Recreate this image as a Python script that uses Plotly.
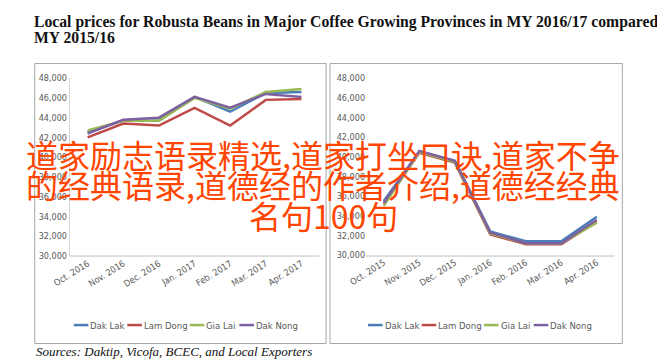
import plotly.graph_objects as go

W, H = 665, 359

series_names = ["Dak Lak", "Lam Dong", "Gia Lai", "Dak Nong"]
series_colors = ["#4a7ebb", "#be4b48", "#98b954", "#7d60a0"]

months_1617 = ["Oct. 2016", "Nov. 2016", "Dec. 2016", "Jan. 2017", "Feb. 2017", "Mar. 2017", "Apr. 2017"]
months_1516 = ["Oct. 2015", "Nov. 2015", "Dec. 2015", "Jan. 2016", "Feb. 2016", "Mar. 2016", "Apr. 2016"]

# MY 2016/17 (VND/kg)
dak_lak_1617 = [42500, 43700, 43700, 46100, 44600, 46500, 46600]
lam_dong_1617 = [42000, 43400, 43200, 45000, 43200, 45800, 45900]
gia_lai_1617 = [42700, 43700, 43700, 46000, 44900, 46600, 46900]
dak_nong_1617 = [42400, 43800, 44000, 46100, 45000, 46400, 46100]

# MY 2015/16 (VND/kg)
dak_lak_1516 = [35500, 40500, 39600, 32400, 31400, 31400, 33900]
lam_dong_1516 = [35200, 40400, 39400, 32100, 31100, 31100, 33400]
gia_lai_1516 = [35000, 40500, 39500, 32200, 31200, 31200, 33300]
dak_nong_1516 = [35300, 40600, 39600, 32300, 31200, 31200, 33600]

y_ticks = [30000, 32000, 34000, 36000, 38000, 40000, 42000, 44000, 46000, 48000]

title_line1 = "Local prices for Robusta Beans in Major Coffee Growing Provinces in MY 2016/17 compared to"
title_line2 = "MY 2015/16"
source_text = "Sources: Daktip, Vicofa, BCEC, and Local Exporters"
overlay_lines = ["道家励志语录精选,道家打坐口诀,道家不争",
                 "的经典语录,道德经的作者介绍,道德经经典",
                 "名句100句"]

NARROW = "DejaVu Sans Condensed, Liberation Sans Narrow, DejaVu Sans, sans-serif"
SERIF = "Liberation Serif, Times New Roman, serif"
GRAY = "#595959"


def px(x):
    return x / W


def py(y):
    return 1 - y / H


fig = go.Figure()

left_sets = [dak_lak_1617, lam_dong_1617, gia_lai_1617, dak_nong_1617]
right_sets = [dak_lak_1516, lam_dong_1516, gia_lai_1516, dak_nong_1516]

for name, col, vals in zip(series_names, series_colors, left_sets):
    fig.add_trace(go.Scatter(x=months_1617, y=vals, mode="lines", name=name,
                             line=dict(color=col, width=2.5), xaxis="x", yaxis="y",
                             showlegend=False))
for name, col, vals in zip(series_names, series_colors, right_sets):
    fig.add_trace(go.Scatter(x=months_1516, y=vals, mode="lines", name=name,
                             line=dict(color=col, width=2.5), xaxis="x2", yaxis="y2",
                             showlegend=False))

xcommon = dict(type="category", range=[-0.5, 6.5], tickangle=-32, showgrid=False,
               zeroline=False, ticks="", tickfont=dict(family=NARROW, size=9, color=GRAY),
               showline=False)
ycommon = dict(range=[30000, 48000], tickvals=y_ticks, tickformat=",d", showgrid=False,
               zeroline=False, ticks="", tickfont=dict(family=NARROW, size=9, color=GRAY))

fig.update_layout(
    width=W, height=H, margin=dict(l=0, r=0, t=0, b=0),
    paper_bgcolor="white", plot_bgcolor="white",
    xaxis=dict(domain=[px(46), px(302)], anchor="y", **xcommon),
    yaxis=dict(domain=[py(250), py(67)], anchor="x", showline=True, linecolor="#d9d9d9",
               linewidth=1, **ycommon),
    xaxis2=dict(domain=[px(350), px(605)], anchor="y2", **xcommon),
    yaxis2=dict(domain=[py(249), py(67)], anchor="x2", showline=False, **ycommon),
    showlegend=False,
)

shapes = []
# chart frames
for x0, x1 in [(10, 309), (313, 613)]:
    shapes.append(dict(type="rect", xref="paper", yref="paper", x0=px(x0), x1=px(x1),
                       y0=py(340), y1=py(52), line=dict(color="#a6a6a6", width=1)))
# category axis baselines
for x0, x1 in [(46, 302), (350, 605)]:
    shapes.append(dict(type="line", xref="paper", yref="paper", x0=px(x0), x1=px(x1),
                       y0=py(250), y1=py(250), line=dict(color="#bfbfbf", width=1)))

annotations = []
# custom legends
legend_offsets = [0, 55, 119, 170]
for start in [50, 352]:
    for off, name, col in zip(legend_offsets, series_names, series_colors):
        x0 = start + off
        shapes.append(dict(type="line", xref="paper", yref="paper", x0=px(x0), x1=px(x0 + 15),
                           y0=py(321), y1=py(321), line=dict(color=col, width=2.5)))
        annotations.append(dict(text=name, xref="paper", yref="paper", x=px(x0 + 15), y=py(321),
                                xanchor="left", yanchor="middle", showarrow=False,
                                font=dict(family=NARROW, size=9.5, color=GRAY)))

annotations.append(dict(text="<b>" + title_line1 + "</b>", xref="paper", yref="paper",
                        x=px(7), y=py(9), xanchor="left", yanchor="middle", showarrow=False,
                        font=dict(family=SERIF, size=15.7, color="#111111")))
annotations.append(dict(text="<b>" + title_line2 + "</b>", xref="paper", yref="paper",
                        x=px(7), y=py(25), xanchor="left", yanchor="middle", showarrow=False,
                        font=dict(family=SERIF, size=15.7, color="#111111")))
annotations.append(dict(text="<i>" + source_text + "</i>", xref="paper", yref="paper",
                        x=px(9), y=py(348.5), xanchor="left", yanchor="middle", showarrow=False,
                        font=dict(family=SERIF, size=13, color="#111111")))

for line, yc in zip(overlay_lines, [145, 176, 208]):
    annotations.append(dict(text=line, xref="paper", yref="paper", x=px(306), y=py(yc),
                            xanchor="center", yanchor="middle", showarrow=False,
                            font=dict(family="Noto Sans CJK SC", size=32, color="#ff4500")))

fig.update_layout(shapes=shapes, annotations=annotations)

fig.write_html("out.html")
